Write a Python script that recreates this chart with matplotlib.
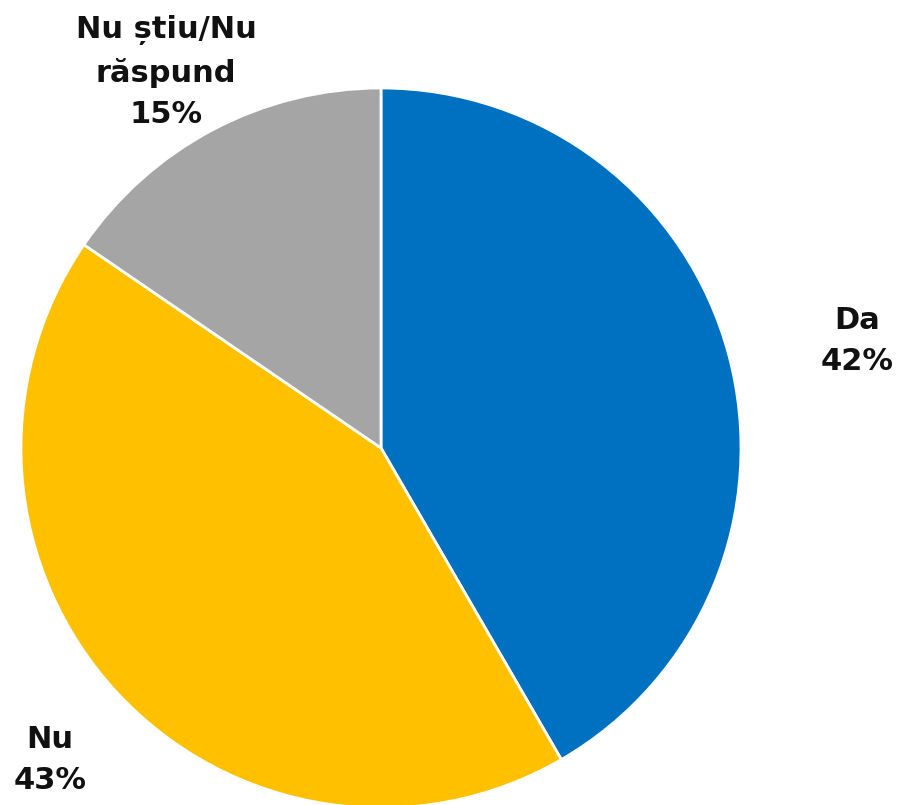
import matplotlib
matplotlib.use('Agg')
import matplotlib.pyplot as plt

labels = ['Da', 'Nu', 'Nu știu/Nu\nrăspund']
values = [41.65, 42.9, 15.45]
colors = ['#0070C0', '#FFC000', '#A5A5A5']

plt.rcParams['font.family'] = ['DejaVu Sans']

fig = plt.figure(figsize=(8.98, 8.05), dpi=100)
ax = fig.add_axes([0, 0, 1, 1])

ax.pie(values, colors=colors, startangle=90, counterclock=False,
       center=(381, 357), radius=360, frame=True,
       wedgeprops=dict(edgecolor='white', linewidth=2))
ax.set_xlim(0, 898)
ax.set_ylim(0, 805)
ax.set_aspect('equal')
ax.axis('off')

# label positions (pixels from top-left)
label_pos = [(857, 341), (50, 760), (166, 72)]
for lab, val, (x, y) in zip(labels, values, label_pos):
    ax.text(x, 805 - y, f'{lab}\n{round(val)}%', ha='center', va='center',
            fontsize=22, fontweight='bold', color='#111111', linespacing=1.52)

fig.savefig('out.png', dpi=100)
